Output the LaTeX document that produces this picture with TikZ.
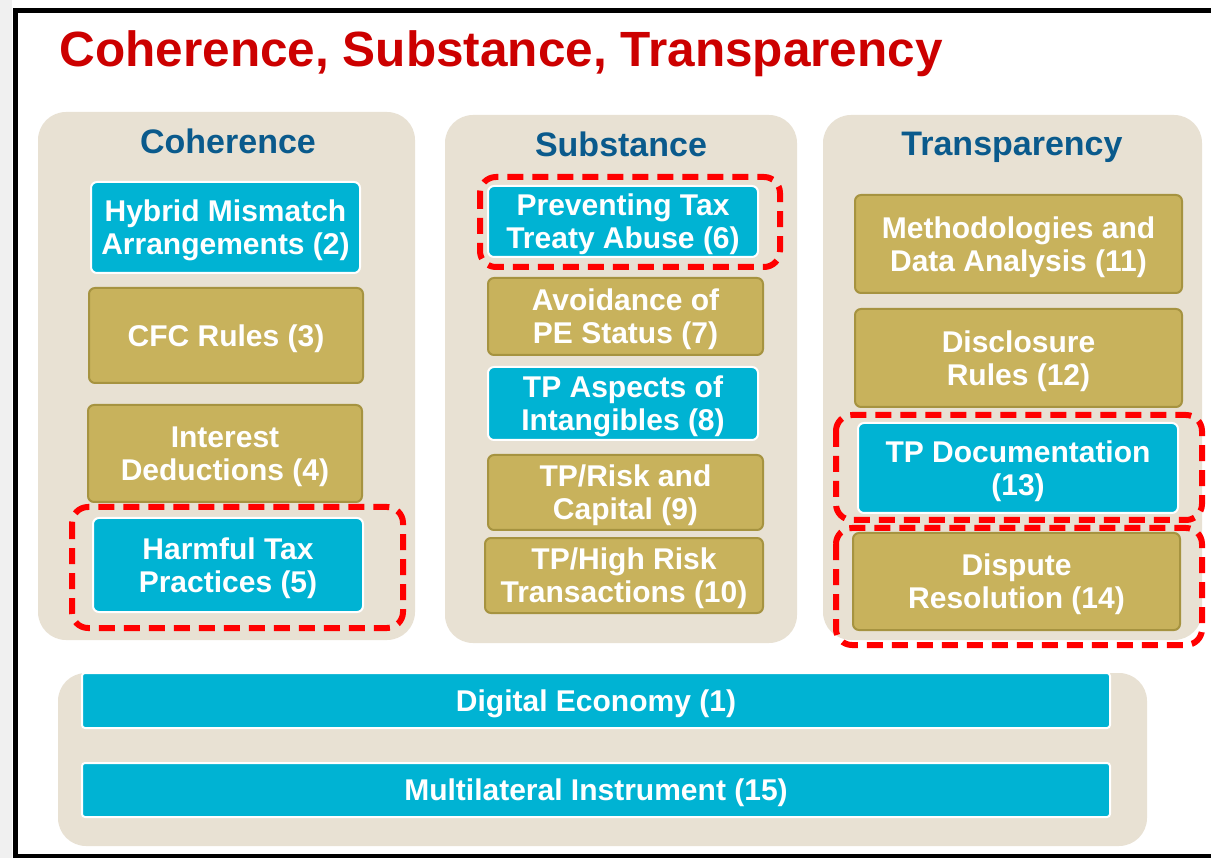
\documentclass[tikz,border=0pt]{standalone}
\usepackage{fontspec}
\setmainfont{Liberation Sans}
\definecolor{titlered}{HTML}{CC0000}
\definecolor{headblue}{HTML}{0A5A8C}
\definecolor{beige}{HTML}{E8E1D3}
\definecolor{oecdcyan}{HTML}{00B3D3}
\definecolor{gold}{HTML}{C8B25C}
\definecolor{golddark}{HTML}{A69340}
\begin{document}
\begin{tikzpicture}[x=1pt,y=-1pt,
	panel/.style={fill=beige,rounded corners=28pt,inner sep=0pt},
	box/.style={rounded corners=6pt,inner sep=0pt,align=center,text=white,line width=2pt,text depth=0pt,
		font=\bfseries\fontsize{30}{33}\selectfont},
	cyanbox/.style={box,fill=oecdcyan,draw=white},
	goldbox/.style={box,fill=gold,draw=golddark},
	hilite/.style={draw=red,line width=6pt,dash pattern=on 16pt off 9pt,rounded corners=16pt},
	heading/.style={text=headblue,font=\bfseries\fontsize{34}{40}\selectfont}]
	\useasboundingbox (0,0) rectangle (1211,858);
	\clip (0,0) rectangle (1211,858);
	\fill[white] (0,0) rectangle (1211,858);
	\fill[black!6] (0,0) rectangle (12,858);
	\draw[line width=5pt] (15,10.5) rectangle (1230,856);
	
	\node[anchor=base west,text=titlered,font=\bfseries\fontsize{49.5}{60}\selectfont] (title) at (56,67) {Coherence, Substance, Transparency};
	
	% three pillars
	\node[panel,minimum width=377pt,minimum height=528pt] (coh) at (226.5,376) {};
	\node[panel,minimum width=352pt,minimum height=528pt] (sub) at (621,379) {};
	\node[panel,minimum width=379pt,minimum height=525pt] (tra) at (1012.5,377.5) {};
	\node[panel,minimum width=1089pt,minimum height=173pt] (base) at (602.5,759.5) {};
	
	\node[heading] (cohhead) at (228,141) {Coherence};
	\node[heading] (subhead) at (621,144) {Substance};
	\node[heading] (trahead) at (1012,147) {Transparency};
	
	% Coherence
	\node[cyanbox,minimum width=269pt,minimum height=91pt] (hma) at (225.5,227.5) {Hybrid Mismatch\\Arrangements (2)};
	\node[goldbox,minimum width=274pt,minimum height=95pt] (cfc) at (226,335.5) {CFC Rules (3)};
	\node[goldbox,minimum width=274pt,minimum height=97pt] (intd) at (225,453.5) {Interest\\Deductions (4)};
	\node[cyanbox,minimum width=270pt,minimum height=94pt] (htp) at (228,565) {Harmful Tax\\Practices (5)};
	
	% Substance
	\node[cyanbox,minimum width=270pt,minimum height=71pt] (treaty) at (623,221.5) {Preventing Tax\\Treaty Abuse (6)};
	\node[goldbox,minimum width=275pt,minimum height=77pt] (pe) at (625.5,316.5) {Avoidance of\\PE Status (7)};
	\node[cyanbox,minimum width=270pt,minimum height=73pt] (intang) at (623,403.5) {TP Aspects of\\Intangibles (8)};
	\node[goldbox,minimum width=275pt,minimum height=75pt] (risk) at (625.5,492.5) {TP/Risk and\\Capital (9)};
	\node[goldbox,minimum width=278pt,minimum height=75pt] (highrisk) at (624,575.5) {TP/High Risk\\Transactions (10)};
	
	% Transparency
	\node[goldbox,minimum width=327pt,minimum height=98pt] (meth) at (1018.5,244) {Methodologies and\\Data Analysis (11)};
	\node[goldbox,minimum width=327pt,minimum height=98pt] (discl) at (1018.5,358) {Disclosure\\Rules (12)};
	\node[cyanbox,minimum width=320pt,minimum height=90pt] (tpdoc) at (1018,468) {TP Documentation\\(13)};
	\node[goldbox,minimum width=327pt,minimum height=97pt] (dispute) at (1016.5,581.5) {Dispute\\Resolution (14)};
	
	% cross-cutting actions
	\node[cyanbox,rounded corners=3pt,minimum width=1028pt,minimum height=55pt] (digital) at (596,700.5) {Digital Economy (1)};
	\node[cyanbox,rounded corners=3pt,minimum width=1028pt,minimum height=54pt] (mli) at (596,790) {Multilateral Instrument (15)};
	
	% highlighted actions
	\draw[hilite] (72,507) rectangle (403,628);
	\draw[hilite] (480,177) rectangle (780,267);
	\draw[hilite] (836,415) rectangle (1202,520);
	\draw[hilite] (836,528) rectangle (1202,645);
\end{tikzpicture}
\end{document}
